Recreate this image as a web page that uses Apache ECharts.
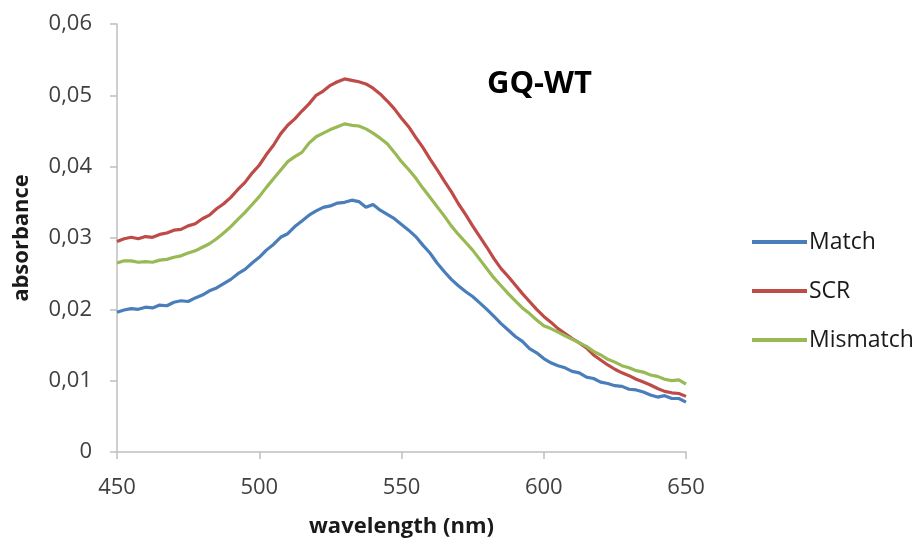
<!DOCTYPE html>
<html>
<head>
<meta charset="utf-8">
<script src="https://cdn.jsdelivr.net/npm/echarts@6/dist/echarts.min.js"></script>
<style>
html,body{margin:0;padding:0;background:#fff;}
#chart{width:918px;height:545px;}
</style>
</head>
<body>
<div id="chart"></div>
<script>
// wavelength grid (nm), 2.5 nm steps
var wavelengths = [];
for (var w = 450; w <= 650.001; w += 2.5) wavelengths.push(w);

var seriesNames = ['Match', 'SCR', 'Mismatch'];

var matchValues = [
0.0196,0.0199,0.0201,0.0200,0.0203,0.0202,0.0206,0.0205,0.0210,0.0212,
0.0211,0.0216,0.0220,0.0226,0.0230,0.0236,0.0242,0.0250,0.0256,0.0265,
0.0273,0.0283,0.0291,0.0301,0.0306,0.0316,0.0324,0.0332,0.0338,0.0343,
0.0345,0.0349,0.0350,0.0353,0.0351,0.0343,0.0347,0.0339,0.0333,0.0327,
0.0319,0.0311,0.0302,0.0290,0.0279,0.0265,0.0253,0.0242,0.0233,0.0225,
0.0218,0.0209,0.0200,0.0190,0.0180,0.0171,0.0162,0.0155,0.0145,0.0139,
0.0131,0.0125,0.0121,0.0118,0.0113,0.0111,0.0105,0.0103,0.0098,0.0096,
0.0093,0.0092,0.0088,0.0087,0.0084,0.0080,0.0077,0.0079,0.0075,0.0075,
0.0070];

var scrValues = [
0.0295,0.0299,0.0301,0.0299,0.0302,0.0301,0.0305,0.0307,0.0311,0.0312,
0.0317,0.0320,0.0327,0.0332,0.0341,0.0348,0.0357,0.0368,0.0378,0.0391,
0.0402,0.0417,0.0430,0.0446,0.0458,0.0467,0.0478,0.0488,0.0500,0.0506,
0.0514,0.0519,0.0523,0.0521,0.0519,0.0516,0.0510,0.0502,0.0492,0.0481,
0.0468,0.0456,0.0441,0.0427,0.0411,0.0396,0.0380,0.0365,0.0348,0.0333,
0.0317,0.0302,0.0287,0.0271,0.0257,0.0246,0.0234,0.0222,0.0211,0.0200,
0.0190,0.0182,0.0173,0.0166,0.0159,0.0153,0.0146,0.0136,0.0129,0.0122,
0.0116,0.0111,0.0107,0.0102,0.0098,0.0094,0.0089,0.0085,0.0083,0.0082,
0.0078];

var mismatchValues = [
0.0265,0.0268,0.0268,0.0266,0.0267,0.0266,0.0269,0.0270,0.0273,0.0275,
0.0279,0.0282,0.0287,0.0292,0.0299,0.0307,0.0316,0.0326,0.0336,0.0347,
0.0358,0.0371,0.0383,0.0395,0.0407,0.0414,0.0420,0.0433,0.0442,0.0447,
0.0452,0.0456,0.0460,0.0458,0.0457,0.0453,0.0447,0.0440,0.0432,0.0420,
0.0407,0.0396,0.0384,0.0370,0.0357,0.0344,0.0331,0.0317,0.0305,0.0294,
0.0283,0.0270,0.0257,0.0244,0.0233,0.0222,0.0212,0.0202,0.0194,0.0185,
0.0177,0.0173,0.0168,0.0163,0.0158,0.0153,0.0148,0.0141,0.0136,0.0130,
0.0126,0.0121,0.0118,0.0114,0.0112,0.0108,0.0106,0.0102,0.0100,0.0101,
0.0095];

var xTickLabels = ['450', '500', '550', '600', '650'];
var yTickLabels = ['0', '0,01', '0,02', '0,03', '0,04', '0,05', '0,06'];

var colors = ['#4a7ebb', '#be4b48', '#98b954'];
var allValues = [matchValues, scrValues, mismatchValues];

function pairs(vals) {
  return vals.map(function (v, i) { return [wavelengths[i], v]; });
}

var chart = echarts.init(document.getElementById('chart'), null, {renderer: 'canvas'});
var font = '"Open Sans", "DejaVu Sans", sans-serif';

chart.setOption({
  animation: false,
  backgroundColor: '#ffffff',
  title: {
    text: 'GQ-WT',
    left: 482, top: 64,
    textStyle: {fontFamily: font, fontSize: 31, fontWeight: 'bold', color: '#000'}
  },
  legend: {
    orient: 'vertical',
    left: 747, top: 225,
    itemWidth: 55, itemHeight: 4, itemGap: 25,
    icon: 'rect',
    data: seriesNames,
    textStyle: {fontFamily: font, fontSize: 23, color: '#1a1a1a', lineHeight: 24, padding: [0,0,0,-3]}
  },
  grid: {left: 117, right: 232, top: 24, bottom: 93, containLabel: false},
  xAxis: {
    type: 'value', min: 450, max: 650, interval: 50,
    name: 'wavelength (nm)', nameLocation: 'middle', nameGap: 64,
    nameTextStyle: {fontFamily: font, fontSize: 22, fontWeight: 'bold', color: '#1a1a1a'},
    axisLine: {show: true, lineStyle: {color: '#bfbfbf', width: 1.5}},
    axisTick: {show: true, inside: false, length: 7, lineStyle: {color: '#bfbfbf', width: 1.5}},
    splitLine: {show: false},
    axisLabel: {
      margin: 25, fontFamily: font, fontSize: 22, color: '#404040',
      formatter: function (v) { return xTickLabels[Math.round((v - 450) / 50)]; }
    }
  },
  yAxis: {
    type: 'value', min: 0, max: 0.06, interval: 0.01,
    name: 'absorbance', nameLocation: 'middle', nameGap: 84, nameRotate: 90,
    nameTextStyle: {fontFamily: font, fontSize: 22, fontWeight: 'bold', color: '#1a1a1a'},
    axisLine: {show: true, lineStyle: {color: '#bfbfbf', width: 1.5}},
    axisTick: {show: true, inside: false, length: 7, lineStyle: {color: '#bfbfbf', width: 1.5}},
    splitLine: {show: false},
    axisLabel: {
      margin: 25, fontFamily: font, fontSize: 22, color: '#404040',
      formatter: function (v) { return yTickLabels[Math.round(v / 0.01)]; }
    }
  },
  series: seriesNames.map(function (n, i) {
    return {
      name: n, type: 'line', data: pairs(allValues[i]),
      showSymbol: false, symbol: 'none',
      lineStyle: {color: colors[i], width: 3.2},
      itemStyle: {color: colors[i]},
      z: i === 0 ? 3 : (i === 1 ? 2 : 4)
    };
  })
});
</script>
</body>
</html>
